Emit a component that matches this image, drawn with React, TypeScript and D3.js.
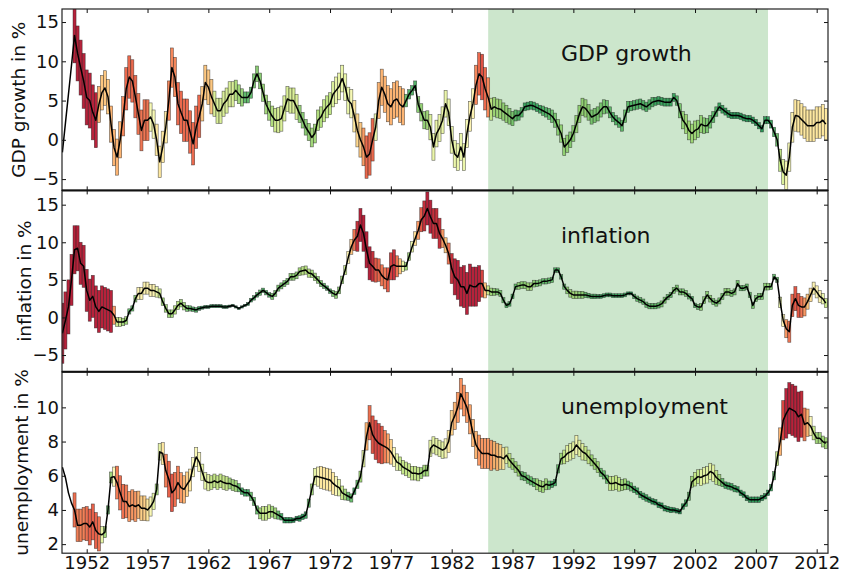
import React, { useEffect, useRef } from 'react';
import * as d3 from 'd3';

// quarterly values, first quarter = 1950 Q1
const startYear = 1950;

const gdp = [
  -1.6, 2.1, 5.8, 9.5, // 1950
  13.3, 11.0, 9.2, 7.5,
  5.4, 5.0, 3.5, 2.5,
  4.5, 6.0, 6.6, 5.5,
  2.0, -1.0, -2.2, 0.0,
  3.0, 6.5, 8.0, 7.5, // 1955
  5.5, 3.3, 1.2, 2.5,
  2.5, 2.9, 2.0, 0.0,
  -2.8, -0.9, 1.6, 5.0,
  9.2, 8.0, 4.6, 3.5,
  2.5, 2.5, 1.0, -0.5, // 1960
  1.6, 3.0, 4.6, 7.3,
  6.7, 5.5, 4.6, 3.7,
  3.7, 4.6, 5.0, 5.8,
  5.8, 6.3, 5.8, 5.4,
  5.4, 5.4, 6.0, 7.5, // 1965
  8.4, 7.5, 6.0, 4.5,
  3.7, 3.0, 2.5, 2.5,
  2.7, 4.0, 5.2, 5.0,
  5.0, 4.2, 3.3, 2.5,
  1.6, 1.0, 0.3, 0.8, // 1970
  2.5, 2.9, 3.7, 4.2,
  4.6, 5.8, 6.3, 6.8,
  7.8, 6.7, 5.0, 4.6,
  3.0, 1.2, 0.0, -0.9,
  -2.2, -1.8, 0.0, 1.6, // 1975
  5.0, 6.7, 5.8, 4.6,
  4.2, 5.0, 5.2, 4.5,
  4.2, 5.0, 5.8, 6.3,
  6.9, 4.5, 3.5, 2.5,
  2.5, 1.6, -0.9, 0.8, // 1980
  1.5, 2.5, 4.6, 3.5,
  0.0, -1.8, -2.2, -0.9,
  -2.2, 0.8, 3.0, 4.6,
  7.0, 8.4, 8.0, 6.5,
  5.4, 3.9, 4.2, 4.0, // 1985
  3.9, 3.6, 3.3, 3.0,
  2.7, 3.1, 3.1, 3.5,
  4.2, 4.3, 4.4, 4.3,
  4.1, 3.9, 3.7, 3.5,
  3.3, 3.0, 2.5, 1.6, // 1990
  0.8, -0.9, -0.5, 0.0,
  0.8, 2.0, 3.3, 4.2,
  4.0, 3.5, 2.9, 3.1,
  3.3, 3.8, 4.2, 4.2,
  3.5, 2.9, 2.5, 2.2, // 1995
  1.8, 3.0, 4.2, 4.3,
  4.4, 4.5, 4.6, 4.4,
  4.2, 4.5, 4.8, 4.9,
  5.0, 4.9, 4.8, 4.8,
  4.8, 5.4, 5.0, 3.7, // 2000
  2.5, 2.0, 1.2, 0.8,
  1.2, 1.4, 2.0, 1.8,
  1.8, 2.3, 2.9, 3.6,
  4.2, 3.9, 3.6, 3.3,
  3.1, 3.1, 3.1, 3.0, // 2005
  2.8, 2.7, 2.7, 2.5,
  2.2, 1.8, 1.4, 2.5,
  2.5, 2.0, 1.0, 0.0,
  -2.6, -4.1, -4.5, -2.2,
  1.6, 3.1, 3.0, 2.6, // 2010
  2.2, 1.8, 1.8, 1.8,
  2.2, 2.2, 2.5, 2.0,
];

const gdpBand = [
  0, 0, 0, 0, // 1950
  3.5, 3.5, 3.5, 3.5,
  3.5, 3.5, 3.5, 3.5,
  2.3, 2.2, 2.2, 2.2,
  2.3, 2.3, 2.3, 2.3,
  2.5, 2.7, 2.7, 2.7, // 1955
  2.7, 2.6, 2.6, 2.6,
  2.6, 1.8, 1.8, 2.0,
  2.0, 2.0, 2.0, 2.5,
  2.5, 2.5, 2.7, 2.7,
  2.7, 2.7, 2.7, 2.7, // 1960
  2.7, 2.7, 2.2, 2.2,
  2.2, 2.2, 1.6, 1.6,
  1.6, 1.6, 1.6, 1.6,
  1.6, 1.3, 1.2, 1.1,
  0.7, 0.7, 0.7, 0.9, // 1965
  1.0, 1.0, 1.1, 1.2,
  1.2, 1.3, 1.5, 1.6,
  1.6, 1.6, 1.6, 1.6,
  1.6, 1.6, 1.1, 1.0,
  1.0, 1.1, 1.2, 1.2, // 1970
  1.3, 1.3, 1.4, 1.4,
  1.4, 1.6, 1.7, 1.7,
  1.7, 1.7, 1.7, 1.8,
  2.0, 2.1, 2.2, 2.4,
  2.7, 2.7, 2.7, 1.7, // 1975
  2.3, 2.3, 2.3, 2.3,
  2.3, 2.3, 2.3, 2.3,
  2.3, 0.8, 0.6, 0.6,
  0.6, 1.0, 1.1, 1.1,
  1.2, 1.6, 1.7, 1.7, // 1980
  1.7, 1.7, 1.7, 1.7,
  1.7, 1.7, 1.7, 1.7,
  1.7, 1.8, 1.9, 1.9,
  2.5, 2.7, 2.9, 2.7,
  2.5, 1.4, 1.2, 1.2, // 1985
  1.2, 1.1, 1.1, 1.0,
  0.9, 0.7, 0.6, 0.6,
  0.5, 0.5, 0.5, 0.5,
  0.5, 0.5, 0.6, 0.6,
  0.7, 0.8, 0.9, 1.0, // 1990
  1.1, 1.1, 1.1, 1.0,
  1.0, 1.1, 1.1, 1.1,
  1.1, 1.0, 0.9, 0.9,
  0.9, 0.9, 0.9, 0.8,
  0.7, 0.6, 0.6, 0.6, // 1995
  0.7, 0.8, 0.7, 0.6,
  0.6, 0.6, 0.6, 0.6,
  0.6, 0.6, 0.6, 0.5,
  0.5, 0.5, 0.5, 0.5,
  0.5, 0.5, 0.6, 0.9, // 2000
  1.1, 1.2, 1.2, 1.2,
  1.2, 1.1, 1.1, 1.0,
  0.9, 0.8, 0.7, 0.6,
  0.5, 0.5, 0.45, 0.45,
  0.4, 0.4, 0.4, 0.4, // 2005
  0.4, 0.4, 0.4, 0.4,
  0.4, 0.4, 0.4, 0.45,
  0.45, 0.5, 0.6, 0.8,
  1.4, 1.6, 1.8, 1.8,
  1.9, 2.0, 2.0, 2.0, // 2010
  2.0, 2.0, 2.0, 2.0,
  2.0, 2.0, 2.0, 2.0,
];

const inflation = [
  -2.1, -0.4, 1.4, 5.0, // 1950
  9.0, 9.2, 7.2, 6.8,
  3.6, 2.3, 2.8, 1.4,
  0.8, 1.4, 1.2, 1.0,
  0.8, 0.3, -0.6, -0.6,
  -0.6, -0.4, 0.8, 1.2, // 1955
  2.5, 3.2, 3.2, 3.9,
  3.9, 3.6, 3.6, 3.4,
  3.2, 2.1, 1.2, 0.5,
  0.5, 1.0, 1.6, 1.9,
  1.5, 1.2, 1.2, 1.1, // 1960
  1.0, 1.2, 1.3, 1.4,
  1.4, 1.5, 1.5, 1.5,
  1.5, 1.4, 1.4, 1.5,
  1.6, 1.4, 1.2, 1.4,
  1.6, 1.8, 2.3, 2.6, // 1965
  3.0, 3.3, 3.6, 3.3,
  3.0, 2.8, 3.2, 3.9,
  4.2, 4.5, 4.8, 5.4,
  5.4, 5.6, 6.1, 6.2,
  6.3, 5.9, 5.8, 5.4, // 1970
  5.0, 4.5, 4.2, 3.9,
  3.5, 3.2, 3.0, 3.6,
  5.0, 6.3, 8.0, 9.4,
  10.3, 10.8, 12.3, 11.2,
  9.0, 7.2, 6.8, 6.3, // 1975
  6.3, 5.6, 5.2, 5.0,
  6.8, 7.0, 6.8, 6.8,
  6.8, 6.8, 8.1, 9.4,
  10.5, 11.6, 13.0, 13.5,
  14.5, 13.4, 12.5, 12.5, // 1980
  11.2, 10.5, 9.6, 8.5,
  6.5, 5.4, 5.0, 4.1,
  4.1, 3.2, 4.3, 4.1,
  4.1, 4.5, 4.5, 3.6,
  3.6, 3.4, 3.4, 3.4, // 1985
  3.2, 2.3, 1.6, 1.8,
  2.8, 4.1, 4.2, 4.3,
  4.3, 4.1, 4.1, 4.5,
  4.5, 4.6, 4.8, 4.8,
  4.9, 5.0, 6.3, 6.3, // 1990
  5.4, 4.1, 3.6, 3.2,
  3.0, 3.0, 3.0, 3.0,
  3.0, 2.9, 2.8, 2.8,
  2.8, 2.8, 2.9, 3.0,
  3.0, 2.9, 2.9, 2.9, // 1995
  2.9, 3.0, 3.2, 3.2,
  2.8, 2.5, 2.3, 2.1,
  1.7, 1.5, 1.5, 1.5,
  1.6, 1.8, 2.3, 2.7,
  3.0, 3.6, 3.9, 3.4, // 2000
  3.4, 3.2, 2.8, 2.5,
  1.6, 1.4, 1.4, 2.3,
  3.0, 2.5, 2.1, 1.9,
  2.2, 2.8, 3.4, 3.4,
  3.2, 3.4, 4.5, 3.9, // 2005
  3.9, 4.1, 3.0, 1.6,
  2.5, 2.8, 2.8, 4.1,
  4.1, 4.1, 5.4, 5.0,
  2.0, -0.4, -1.5, -1.9,
  1.6, 2.5, 1.6, 1.4, // 2010
  1.4, 2.1, 3.0, 3.9,
  3.4, 2.8, 2.5, 1.9,
];

const inflationBand = [
  4.0, 3.8, 3.6, 3.4, // 1950
  3.2, 3.0, 2.8, 2.8,
  2.8, 2.8, 2.8, 2.8,
  2.8, 2.8, 2.8, 2.8,
  2.8, 1.2, 0.6, 0.6,
  0.5, 0.5, 0.35, 0.35, // 1955
  0.45, 0.8, 0.8, 0.8,
  0.8, 0.8, 0.8, 0.7,
  0.6, 0.5, 0.5, 0.5,
  0.5, 0.55, 0.55, 0.5,
  0.5, 0.4, 0.35, 0.3, // 1960
  0.3, 0.25, 0.2, 0.2,
  0.2, 0.2, 0.2, 0.2,
  0.2, 0.2, 0.2, 0.15,
  0.15, 0.15, 0.15, 0.15,
  0.15, 0.2, 0.25, 0.3, // 1965
  0.3, 0.35, 0.3, 0.3,
  0.3, 0.4, 0.4, 0.4,
  0.4, 0.4, 0.4, 0.45,
  0.45, 0.45, 0.5, 0.55,
  0.55, 0.55, 0.5, 0.5, // 1970
  0.45, 0.4, 0.35, 0.3,
  0.3, 0.4, 0.45, 0.45,
  0.5, 0.6, 0.8, 1.0,
  1.4, 2.0, 2.2, 2.4,
  2.4, 2.2, 2.0, 1.6, // 1975
  1.5, 1.4, 1.4, 1.6,
  1.8, 2.0, 1.4, 1.0,
  0.7, 0.5, 0.5, 0.7,
  0.9, 1.2, 1.6, 2.0,
  2.2, 2.2, 2.0, 2.0, // 1980
  2.0, 1.2, 1.0, 1.4,
  2.0, 2.4, 2.6, 2.6,
  2.8, 2.8, 2.8, 2.6,
  2.6, 2.4, 1.8, 1.0,
  0.6, 0.5, 0.45, 0.4, // 1985
  0.4, 0.35, 0.3, 0.3,
  0.3, 0.35, 0.45, 0.45,
  0.45, 0.5, 0.5, 0.45,
  0.4, 0.4, 0.35, 0.35,
  0.35, 0.35, 0.3, 0.3, // 1990
  0.3, 0.35, 0.45, 0.5,
  0.5, 0.5, 0.45, 0.45,
  0.35, 0.3, 0.3, 0.3,
  0.25, 0.25, 0.25, 0.25,
  0.25, 0.25, 0.25, 0.25, // 1995
  0.25, 0.25, 0.2, 0.2,
  0.3, 0.35, 0.35, 0.35,
  0.35, 0.35, 0.35, 0.35,
  0.35, 0.4, 0.4, 0.35,
  0.35, 0.4, 0.4, 0.4, // 2000
  0.4, 0.4, 0.35, 0.3,
  0.3, 0.35, 0.45, 0.45,
  0.45, 0.45, 0.4, 0.4,
  0.4, 0.4, 0.45, 0.45,
  0.4, 0.4, 0.4, 0.35, // 2005
  0.35, 0.35, 0.35, 0.4,
  0.4, 0.4, 0.4, 0.45,
  0.45, 0.4, 0.35, 0.35,
  0.7, 0.8, 1.2, 1.4,
  1.5, 1.6, 1.6, 1.4, // 2010
  1.2, 1.0, 0.9, 0.8,
  0.8, 0.8, 0.7, 0.6,
];

const unemployment = [
  6.5, 5.9, 5.0, 4.4, // 1950
  4.0, 3.1, 3.1, 3.2,
  3.2, 3.0, 3.3, 2.8,
  2.6, 2.55, 2.7, 4.0,
  5.9, 5.95, 5.6, 5.0,
  4.5, 4.5, 4.2, 4.3, // 1955
  4.2, 4.3, 4.1, 4.1,
  4.0, 4.2, 4.5, 5.2,
  7.4, 7.3, 6.3, 5.8,
  5.0, 5.2, 5.6, 5.3,
  5.2, 5.5, 5.75, 6.5, // 1960
  7.1, 6.8, 6.2, 5.7,
  5.6, 5.6, 5.7, 5.6,
  5.7, 5.6, 5.55, 5.55,
  5.45, 5.4, 5.3, 5.1,
  5.0, 5.0, 4.8, 4.5, // 1965
  4.0, 3.8, 3.8, 3.8,
  3.9, 3.9, 3.8, 3.7,
  3.6, 3.4, 3.4, 3.4,
  3.4, 3.5, 3.5, 3.6,
  3.7, 4.4, 5.2, 5.95, // 1970
  5.95, 5.9, 5.85, 5.8,
  5.75, 5.55, 5.4, 5.3,
  5.0, 4.9, 4.8, 4.7,
  5.1, 5.5, 5.95, 7.0,
  8.3, 9.1, 8.4, 8.1, // 1975
  7.9, 7.8, 7.7, 7.6,
  7.4, 7.1, 6.8, 6.7,
  6.5, 6.4, 6.3, 6.15,
  6.15, 6.1, 6.15, 6.3,
  6.3, 7.6, 7.8, 7.7, // 1980
  7.6, 7.5, 7.6, 8.0,
  9.1, 9.5, 10.0, 10.8,
  10.4, 10.0, 9.3, 8.5,
  7.8, 7.5, 7.3, 7.3,
  7.3, 7.2, 7.2, 7.1, // 1985
  7.1, 7.0, 7.2, 6.9,
  6.7, 6.5, 6.3, 6.0,
  5.95, 5.8, 5.7, 5.6,
  5.5, 5.4, 5.35, 5.5,
  5.45, 5.5, 5.6, 6.4, // 1990
  7.0, 7.1, 7.3, 7.4,
  7.5, 7.8, 7.6, 7.4,
  7.3, 7.1, 6.9, 6.7,
  6.5, 6.2, 6.05, 5.8,
  5.55, 5.55, 5.6, 5.5, // 1995
  5.45, 5.5, 5.45, 5.35,
  5.2, 5.1, 4.9, 4.8,
  4.7, 4.6, 4.5, 4.45,
  4.3, 4.25, 4.1, 4.05,
  4.0, 4.0, 3.95, 3.9, // 2000
  4.2, 4.4, 4.8, 5.65,
  5.8, 5.95, 5.9, 6.0,
  6.05, 6.25, 6.15, 5.9,
  5.75, 5.6, 5.45, 5.4,
  5.35, 5.25, 5.2, 5.0, // 2005
  4.9, 4.7, 4.6, 4.6,
  4.6, 4.6, 4.7, 4.8,
  5.0, 5.3, 6.0, 7.0,
  8.0, 9.25, 9.65, 9.95,
  9.85, 9.75, 9.45, 9.6, // 2010
  9.0, 9.1, 8.9, 8.5,
  8.2, 8.2, 8.0, 7.9,
];

const unemploymentBand = [
  0, 0, 0, 0, // 1950
  1.0, 0.95, 0.95, 0.95,
  1.0, 1.05, 1.05, 1.05,
  1.0, 0.48, 0.32, 0.24,
  0.32, 0.56, 0.96, 1.0,
  1.0, 0.96, 0.88, 0.88, // 1955
  0.88, 0.8, 0.72, 0.72,
  0.64, 0.56, 0.48, 0.32,
  0.48, 0.64, 0.96, 1.05,
  1.1, 1.0, 0.96, 0.88,
  0.8, 0.72, 0.64, 0.56, // 1960
  0.56, 0.56, 0.48, 0.48,
  0.48, 0.4, 0.4, 0.4,
  0.4, 0.4, 0.4, 0.32,
  0.32, 0.32, 0.24, 0.19,
  0.19, 0.19, 0.24, 0.24, // 1965
  0.24, 0.32, 0.4, 0.4,
  0.4, 0.32, 0.32, 0.24,
  0.19, 0.16, 0.16, 0.16,
  0.13, 0.13, 0.16, 0.16,
  0.19, 0.24, 0.32, 0.48, // 1970
  0.56, 0.64, 0.64, 0.64,
  0.64, 0.64, 0.56, 0.48,
  0.4, 0.32, 0.24, 0.24,
  0.19, 0.24, 0.32, 0.48,
  0.8, 1.0, 1.1, 1.15, // 1975
  1.15, 1.1, 0.95, 0.85,
  0.72, 0.56, 0.48, 0.4,
  0.4, 0.4, 0.4, 0.4,
  0.4, 0.4, 0.32, 0.32,
  0.32, 0.48, 0.48, 0.48, // 1980
  0.48, 0.48, 0.56, 0.64,
  0.72, 0.8, 0.88, 0.9,
  0.9, 0.88, 0.85, 0.8,
  0.8, 0.88, 0.88, 0.88,
  0.88, 0.88, 0.8, 0.8, // 1985
  0.72, 0.64, 0.48, 0.4,
  0.32, 0.32, 0.32, 0.24,
  0.24, 0.24, 0.24, 0.24,
  0.32, 0.32, 0.32, 0.32,
  0.24, 0.19, 0.19, 0.24, // 1990
  0.32, 0.4, 0.48, 0.48,
  0.48, 0.56, 0.48, 0.48,
  0.4, 0.4, 0.32, 0.32,
  0.32, 0.24, 0.24, 0.24,
  0.4, 0.4, 0.4, 0.4, // 1995
  0.32, 0.32, 0.24, 0.24,
  0.19, 0.19, 0.19, 0.19,
  0.19, 0.16, 0.16, 0.16,
  0.16, 0.16, 0.16, 0.16,
  0.16, 0.13, 0.13, 0.13, // 2000
  0.16, 0.19, 0.24, 0.32,
  0.4, 0.4, 0.48, 0.48,
  0.48, 0.48, 0.48, 0.4,
  0.32, 0.24, 0.19, 0.19,
  0.19, 0.19, 0.16, 0.16, // 2005
  0.16, 0.16, 0.16, 0.16,
  0.16, 0.16, 0.16, 0.16,
  0.16, 0.19, 0.24, 0.4,
  0.8, 1.15, 1.45, 1.5,
  1.5, 1.5, 1.45, 1.35, // 2010
  0.96, 0.8, 0.56, 0.4,
  0.32, 0.32, 0.32, 0.32,
];

const yearTicks = [1952, 1957, 1962, 1967, 1972, 1977, 1982, 1987, 1992, 1997, 2002, 2007, 2012];
const moderation = [1985, 2008];

// colour position on RdYlGn for each band stop
const colorPos = [0.95, 0.85, 0.72, 0.6, 0.42, 0.3, 0.2, 0.1, 0.02];

const panels = [
  {
    title: 'GDP growth', label: 'GDP growth in %', values: gdp, band: gdpBand,
    domain: [-6.44, 16.66], ticks: [-5, 0, 5, 10, 15],
    stops: [0.3, 0.6, 1.2, 1.6, 2.0, 2.3, 2.55, 3.0, 3.5],
    titleY: 61, labelX: 25,
  },
  {
    title: 'inflation', label: 'inflation in %', values: inflation, band: inflationBand,
    domain: [-7.23, 16.9], ticks: [-5, 0, 5, 10, 15],
    stops: [0.15, 0.3, 0.5, 0.65, 0.85, 1.05, 1.35, 1.75, 2.2],
    titleY: 243, labelX: 31,
  },
  {
    title: 'unemployment', label: 'unemployment in %', values: unemployment, band: unemploymentBand,
    domain: [1.47, 12.08], ticks: [2, 4, 6, 8, 10],
    stops: [0.13, 0.21, 0.32, 0.45, 0.64, 0.8, 0.96, 1.15, 1.45],
    titleY: 414, labelX: 28,
  },
];

export default function App() {
  const ref = useRef<SVGSVGElement>(null);

  useEffect(() => {
    const width = 844;
    const height = 574;
    const left = 62, right = 828;
    const top0 = 9, plotH = 181.4;
    const font = 'DejaVu Sans, sans-serif';

    const svg = d3.select(ref.current);
    svg.selectAll('*').remove();
    svg.attr('width', width).attr('height', height);

    const x = d3.scaleLinear().domain([1949.97, 2012.93]).range([left, right]);
    const qw = x(0.25) - x(0);

    panels.forEach((p, k) => {
      const top = top0 + k * plotH;
      const bottom = top + plotH;
      const y = d3.scaleLinear().domain(p.domain).range([bottom, top]);
      const color = d3.scaleLinear().domain(p.stops).range(colorPos).clamp(true);

      const clipId = 'clip' + k;
      svg.append('clipPath').attr('id', clipId)
        .append('rect').attr('x', left).attr('y', top).attr('width', right - left).attr('height', plotH);

      const g = svg.append('g').attr('clip-path', `url(#${clipId})`);

      g.append('rect')
        .attr('x', x(moderation[0]))
        .attr('width', x(moderation[1]) - x(moderation[0]))
        .attr('y', top).attr('height', plotH)
        .attr('fill', '#cce6cc');

      const data = p.values.map((v, i) => ({ t: startYear + i / 4, v, b: p.band[i] }));

      g.selectAll('rect.bar')
        .data(data.filter(d => d.b > 0))
        .join('rect')
        .attr('class', 'bar')
        .attr('x', d => x(d.t) - qw / 2)
        .attr('width', qw)
        .attr('y', d => y(d.v + d.b))
        .attr('height', d => y(d.v - d.b) - y(d.v + d.b))
        .attr('fill', d => d3.interpolateRdYlGn(color(d.b)))
        .attr('fill-opacity', 0.9)
        .attr('stroke', '#222')
        .attr('stroke-opacity', 0.7)
        .attr('stroke-width', 0.6);

      const line = d3.line<{ t: number; v: number }>()
        .x(d => x(d.t))
        .y(d => y(d.v));

      g.append('path')
        .datum(data)
        .attr('fill', 'none')
        .attr('stroke', '#000')
        .attr('stroke-width', 1.5)
        .attr('stroke-linejoin', 'round')
        .attr('d', line);

      // axes, ticks pointing inward
      const styleAxis = (a: any) => {
        a.select('.domain').remove();
        a.selectAll('text').attr('font-family', font).attr('font-size', 18).attr('fill', '#111');
        a.selectAll('line').attr('stroke', '#111');
      };

      svg.append('g')
        .attr('transform', `translate(${left},0)`)
        .call(d3.axisLeft(y).tickValues(p.ticks).tickSize(-4).tickPadding(3).tickFormat(d3.format('d')))
        .call(styleAxis);

      svg.append('g')
        .attr('transform', `translate(${right},0)`)
        .call(d3.axisRight(y).tickValues(p.ticks).tickSize(-4).tickFormat(() => ''))
        .call(styleAxis);

      svg.append('g')
        .attr('transform', `translate(0,${top})`)
        .call(d3.axisTop(x).tickValues(yearTicks).tickSize(-4).tickFormat(() => ''))
        .call(styleAxis);

      svg.append('g')
        .attr('transform', `translate(0,${bottom})`)
        .call(d3.axisBottom(x).tickValues(yearTicks).tickSize(-4).tickPadding(3)
          .tickFormat(k === panels.length - 1 ? d3.format('d') : () => ''))
        .call(styleAxis);

      svg.append('text')
        .attr('x', 561)
        .attr('y', p.titleY)
        .attr('font-family', font)
        .attr('font-size', 22)
        .attr('fill', '#111')
        .text(p.title);

      svg.append('text')
        .attr('transform', `translate(${p.labelX},${(top + bottom) / 2}) rotate(-90)`)
        .attr('text-anchor', 'middle')
        .attr('font-family', font)
        .attr('font-size', 18.5)
        .attr('fill', '#111')
        .text(p.label);

      svg.append('rect')
        .attr('x', left).attr('y', top)
        .attr('width', right - left).attr('height', plotH)
        .attr('fill', 'none')
        .attr('stroke', '#222')
        .attr('stroke-width', 1.2);
    });

    // heavier dividers between the panels
    [1, 2].forEach(k => {
      svg.append('line')
        .attr('x1', left).attr('x2', right)
        .attr('y1', top0 + k * plotH).attr('y2', top0 + k * plotH)
        .attr('stroke', '#111')
        .attr('stroke-width', 2);
    });
  }, []);

  return (
    <svg ref={ref} style={{ position: 'absolute', left: 0, top: 0, background: '#fff' }} />
  );
}
